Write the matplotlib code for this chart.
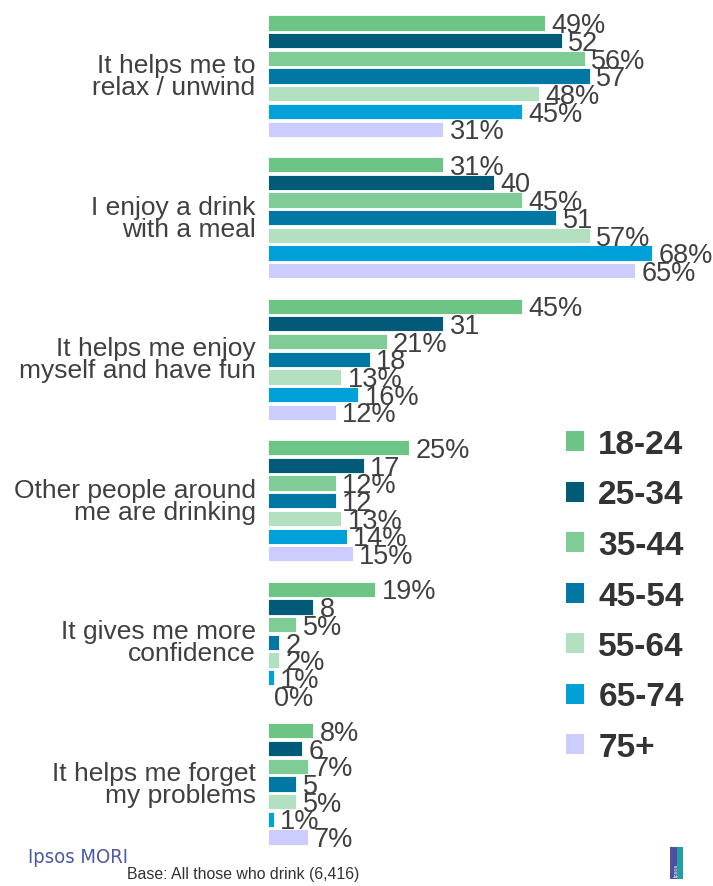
import matplotlib.pyplot as plt
from matplotlib.patches import Patch, Rectangle

plt.rcParams['font.family'] = ['Liberation Sans', 'DejaVu Sans']

# ===== DATA =====
reasons = ['It helps me to\nrelax / unwind',
           'I enjoy a drink\nwith a meal',
           'It helps me enjoy\nmyself and have fun',
           'Other people around\nme are drinking',
           'It gives me more\nconfidence',
           'It helps me forget\nmy problems']
age_groups = ['18-24', '25-34', '35-44', '45-54', '55-64', '65-74', '75+']
v18_24 = [49, 31, 45, 25, 19, 8]
v25_34 = [52, 40, 31, 17, 8, 6]
v35_44 = [56, 45, 21, 12, 5, 7]
v45_54 = [57, 51, 18, 12, 2, 5]
v55_64 = [48, 57, 13, 13, 2, 5]
v65_74 = [45, 68, 16, 14, 1, 1]
v75_plus = [31, 65, 12, 15, 0, 7]
series = [v18_24, v25_34, v35_44, v45_54, v55_64, v65_74, v75_plus]
# the source shows no % sign on two of the series
label_fmt = ['{}%', '{}', '{}%', '{}', '{}%', '{}%', '{}%']
colors = ['#6cc585', '#005a78', '#80cc96', '#0078a3', '#b2e0c0', '#00a0d8', '#ccccff']
text_col = '#404040'

# ===== PLOT =====
W, H = 713, 887
fig = plt.figure(figsize=(W / 100, H / 100), dpi=100)
ax = fig.add_axes([268 / W, 0, 424 / W, 1])
ax.set_xlim(0, 75)
ax.set_ylim(48.77, -1.356)
ax.axis('off')

step = len(age_groups) + 1
for j, (vals, col, fmt) in enumerate(zip(series, colors, label_fmt)):
    ys = [i * step + j for i in range(len(reasons))]
    ax.barh(ys, vals, height=0.86, color=col, edgecolor='white', linewidth=0.6)
    for y, v in zip(ys, vals):
        ax.text(v + 1.1, y + 0.52, fmt.format(v), ha='left', va='baseline',
                fontsize=19.5, color=text_col)

for i, r in enumerate(reasons):
    ax.text(-2.2, i * step + 3, r, ha='right', va='center', fontsize=19,
            color=text_col, linespacing=0.88)

handles = [Patch(facecolor=c, edgecolor='none') for c in colors]
leg = fig.legend(handles, age_groups, loc='upper left',
                 bbox_to_anchor=(566 / W, 1 - 430 / H), frameon=False,
                 borderpad=0, borderaxespad=0, handlelength=0.55,
                 handleheight=0.55, handletextpad=0.42, labelspacing=0.585,
                 prop={'size': 24, 'weight': 'bold'})
for t in leg.get_texts():
    t.set_color('#333333')

# ===== FOOTER =====
fig.text(28 / W, 1 - 858 / H, 'Ipsos MORI', ha='left', va='center', fontsize=14.5,
         color='#4b5aa5', family='DejaVu Sans', stretch='condensed')
fig.text(127 / W, 1 - 875 / H, 'Base: All those who drink (6,416)', ha='left',
         va='center', fontsize=11.4, color='#333333')
fig.patches.append(Rectangle((670 / W, 1 - 880 / H), 7 / W, 32 / H,
                             transform=fig.transFigure, facecolor='#5050a0'))
fig.patches.append(Rectangle((677 / W, 1 - 880 / H), 6 / W, 32 / H,
                             transform=fig.transFigure, facecolor='#20a0a0'))
fig.text(676 / W, 1 - 870 / H, 'Ipsos', rotation=90, ha='center', va='center',
         fontsize=4, color='white')

fig.savefig('out.png', dpi=100)
